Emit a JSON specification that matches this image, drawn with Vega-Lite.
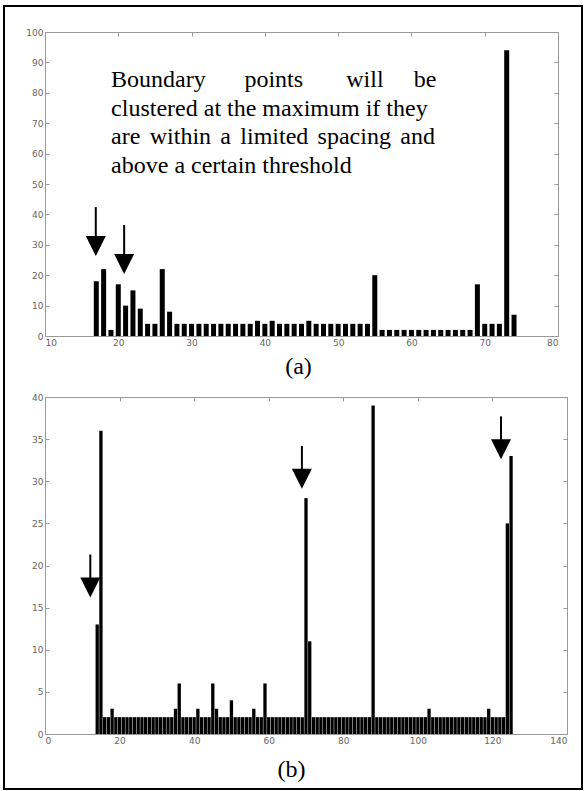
{
  "$schema": "https://vega.github.io/schema/vega-lite/v6.json",
  "background": "white",
  "padding": {"left": 3, "top": 4, "right": 3, "bottom": 2},
  "bounds": "flush",
  "spacing": 61,
  "config": {
    "view": {"stroke": null},
    "axis": {
      "grid": false,
      "domainColor": "#999",
      "domainWidth": 1,
      "tickColor": "#999",
      "tickSize": -4,
      "labelFont": "DejaVu Sans",
      "labelFontSize": 9,
      "labelColor": "#666",
      "labelPadding": 6,
      "titleFont": "Liberation Serif",
      "titleFontSize": 24,
      "titleFontWeight": "normal",
      "titleColor": "black"
    }
  },
  "datasets": {
    "barsA": [
      {"x": 17, "count": 18}, {"x": 18, "count": 22}, {"x": 19, "count": 2}, {"x": 20, "count": 17},
      {"x": 21, "count": 10}, {"x": 22, "count": 15}, {"x": 23, "count": 9}, {"x": 24, "count": 4},
      {"x": 25, "count": 4}, {"x": 26, "count": 22}, {"x": 27, "count": 8}, {"x": 28, "count": 4},
      {"x": 29, "count": 4}, {"x": 30, "count": 4}, {"x": 31, "count": 4}, {"x": 32, "count": 4},
      {"x": 33, "count": 4}, {"x": 34, "count": 4}, {"x": 35, "count": 4}, {"x": 36, "count": 4},
      {"x": 37, "count": 4}, {"x": 38, "count": 4}, {"x": 39, "count": 5}, {"x": 40, "count": 4},
      {"x": 41, "count": 5}, {"x": 42, "count": 4}, {"x": 43, "count": 4}, {"x": 44, "count": 4},
      {"x": 45, "count": 4}, {"x": 46, "count": 5}, {"x": 47, "count": 4}, {"x": 48, "count": 4},
      {"x": 49, "count": 4}, {"x": 50, "count": 4}, {"x": 51, "count": 4}, {"x": 52, "count": 4},
      {"x": 53, "count": 4}, {"x": 54, "count": 4}, {"x": 55, "count": 20}, {"x": 56, "count": 2},
      {"x": 57, "count": 2}, {"x": 58, "count": 2}, {"x": 59, "count": 2}, {"x": 60, "count": 2},
      {"x": 61, "count": 2}, {"x": 62, "count": 2}, {"x": 63, "count": 2}, {"x": 64, "count": 2},
      {"x": 65, "count": 2}, {"x": 66, "count": 2}, {"x": 67, "count": 2}, {"x": 68, "count": 2},
      {"x": 69, "count": 17}, {"x": 70, "count": 4}, {"x": 71, "count": 4}, {"x": 72, "count": 4},
      {"x": 73, "count": 94}, {"x": 74, "count": 7}
    ],
    "barsB": [
      {"x": 14, "count": 13}, {"x": 15, "count": 36}, {"x": 16, "count": 2}, {"x": 17, "count": 2},
      {"x": 18, "count": 3}, {"x": 19, "count": 2}, {"x": 20, "count": 2}, {"x": 21, "count": 2},
      {"x": 22, "count": 2}, {"x": 23, "count": 2}, {"x": 24, "count": 2}, {"x": 25, "count": 2},
      {"x": 26, "count": 2}, {"x": 27, "count": 2}, {"x": 28, "count": 2}, {"x": 29, "count": 2},
      {"x": 30, "count": 2}, {"x": 31, "count": 2}, {"x": 32, "count": 2}, {"x": 33, "count": 2},
      {"x": 34, "count": 2}, {"x": 35, "count": 3}, {"x": 36, "count": 6}, {"x": 37, "count": 2},
      {"x": 38, "count": 2}, {"x": 39, "count": 2}, {"x": 40, "count": 2}, {"x": 41, "count": 3},
      {"x": 42, "count": 2}, {"x": 43, "count": 2}, {"x": 44, "count": 2}, {"x": 45, "count": 6},
      {"x": 46, "count": 3}, {"x": 47, "count": 2}, {"x": 48, "count": 2}, {"x": 49, "count": 2},
      {"x": 50, "count": 4}, {"x": 51, "count": 2}, {"x": 52, "count": 2}, {"x": 53, "count": 2},
      {"x": 54, "count": 2}, {"x": 55, "count": 2}, {"x": 56, "count": 3}, {"x": 57, "count": 2},
      {"x": 58, "count": 2}, {"x": 59, "count": 6}, {"x": 60, "count": 2}, {"x": 61, "count": 2},
      {"x": 62, "count": 2}, {"x": 63, "count": 2}, {"x": 64, "count": 2}, {"x": 65, "count": 2},
      {"x": 66, "count": 2}, {"x": 67, "count": 2}, {"x": 68, "count": 2}, {"x": 69, "count": 2},
      {"x": 70, "count": 28}, {"x": 71, "count": 11}, {"x": 72, "count": 2}, {"x": 73, "count": 2},
      {"x": 74, "count": 2}, {"x": 75, "count": 2}, {"x": 76, "count": 2}, {"x": 77, "count": 2},
      {"x": 78, "count": 2}, {"x": 79, "count": 2}, {"x": 80, "count": 2}, {"x": 81, "count": 2},
      {"x": 82, "count": 2}, {"x": 83, "count": 2}, {"x": 84, "count": 2}, {"x": 85, "count": 2},
      {"x": 86, "count": 2}, {"x": 87, "count": 2}, {"x": 88, "count": 39}, {"x": 89, "count": 2},
      {"x": 90, "count": 2}, {"x": 91, "count": 2}, {"x": 92, "count": 2}, {"x": 93, "count": 2},
      {"x": 94, "count": 2}, {"x": 95, "count": 2}, {"x": 96, "count": 2}, {"x": 97, "count": 2},
      {"x": 98, "count": 2}, {"x": 99, "count": 2}, {"x": 100, "count": 2}, {"x": 101, "count": 2},
      {"x": 102, "count": 2}, {"x": 103, "count": 3}, {"x": 104, "count": 2}, {"x": 105, "count": 2},
      {"x": 106, "count": 2}, {"x": 107, "count": 2}, {"x": 108, "count": 2}, {"x": 109, "count": 2},
      {"x": 110, "count": 2}, {"x": 111, "count": 2}, {"x": 112, "count": 2}, {"x": 113, "count": 2},
      {"x": 114, "count": 2}, {"x": 115, "count": 2}, {"x": 116, "count": 2}, {"x": 117, "count": 2},
      {"x": 118, "count": 2}, {"x": 119, "count": 3}, {"x": 120, "count": 2}, {"x": 121, "count": 2},
      {"x": 122, "count": 2}, {"x": 123, "count": 2}, {"x": 124, "count": 25}, {"x": 125, "count": 33}
    ],
    "arrowsA": [
      {"x": 16.93, "top": 42.4, "mid": 29.6},
      {"x": 20.8, "top": 36.5, "mid": 23.7}
    ],
    "arrowsB": [
      {"x": 12.15, "top": 21.3, "mid": 17.4},
      {"x": 68.9, "top": 34.2, "mid": 30.3},
      {"x": 122.3, "top": 37.7, "mid": 33.8}
    ],
    "note": [
      {"t": "Boundary", "x": 19.02, "y": 81.9},
      {"t": "points", "x": 37.21, "y": 81.9},
      {"t": "will", "x": 51.11, "y": 81.9},
      {"t": "be", "x": 60.3, "y": 81.9},
      {"t": "clustered at the maximum if they", "x": 19.02, "y": 72.4},
      {"t": "are", "x": 19.02, "y": 63.1},
      {"t": "within", "x": 24.29, "y": 63.1},
      {"t": "a", "x": 33.93, "y": 63.1},
      {"t": "limited", "x": 36.65, "y": 63.1},
      {"t": "spacing", "x": 47.2, "y": 63.1},
      {"t": "and", "x": 58.48, "y": 63.1},
      {"t": "above a certain threshold", "x": 19.02, "y": 53.7}
    ]
  },
  "vconcat": [
    {
      "width": 513,
      "height": 304,
      "resolve": {"axis": {"x": "independent", "y": "independent"}},
      "layer": [
        {
          "data": {"name": "barsA"},
          "mark": {"type": "bar", "size": 5, "color": "black"},
          "encoding": {
            "x": {"field": "x", "type": "quantitative",
                  "scale": {"domain": [10, 80], "nice": false, "zero": false, "padding": 0},
                  "axis": {"orient": "bottom", "values": [10, 20, 30, 40, 50, 60, 70, 80],
                           "title": "(a)", "titleX": 253, "titleY": 37, "titleAlign": "center", "titleBaseline": "alphabetic"}},
            "y": {"field": "count", "type": "quantitative",
                  "scale": {"domain": [0, 100], "nice": false},
                  "axis": {"orient": "left", "values": [0, 10, 20, 30, 40, 50, 60, 70, 80, 90, 100], "title": null}}
          }
        },
        {
          "data": {"name": "arrowsA"},
          "mark": {"type": "rule", "strokeWidth": 2, "color": "black"},
          "encoding": {
            "x": {"field": "x", "type": "quantitative",
                  "axis": {"orient": "top", "labels": false, "title": null, "values": [10, 20, 30, 40, 50, 60, 70, 80]}},
            "y": {"field": "top", "type": "quantitative",
                  "axis": {"orient": "right", "labels": false, "title": null, "values": [0, 10, 20, 30, 40, 50, 60, 70, 80, 90, 100]}},
            "y2": {"field": "mid"}
          }
        },
        {
          "data": {"name": "arrowsA"},
          "mark": {"type": "point", "shape": "M-1,-1L1,-1L0,1Z", "size": 400, "filled": true, "opacity": 1, "color": "black"},
          "encoding": {
            "x": {"field": "x", "type": "quantitative", "axis": null},
            "y": {"field": "mid", "type": "quantitative", "axis": null}
          }
        },
        {
          "data": {"name": "note"},
          "mark": {"type": "text", "font": "Liberation Serif", "fontSize": 24, "align": "left", "baseline": "alphabetic", "color": "black"},
          "encoding": {
            "x": {"field": "x", "type": "quantitative", "axis": null},
            "y": {"field": "y", "type": "quantitative", "axis": null},
            "text": {"field": "t"}
          }
        }
      ]
    },
    {
      "width": 522,
      "height": 337,
      "resolve": {"axis": {"x": "independent", "y": "independent"}},
      "layer": [
        {
          "data": {"name": "barsB"},
          "mark": {"type": "bar", "size": 3.3, "color": "black"},
          "encoding": {
            "x": {"field": "x", "type": "quantitative",
                  "scale": {"domain": [0, 140], "nice": false, "zero": false, "padding": 0},
                  "axis": {"orient": "bottom", "values": [0, 20, 40, 60, 80, 100, 120, 140],
                           "title": "(b)", "titleX": 246, "titleY": 42, "titleAlign": "center", "titleBaseline": "alphabetic"}},
            "y": {"field": "count", "type": "quantitative",
                  "scale": {"domain": [0, 40], "nice": false},
                  "axis": {"orient": "left", "values": [0, 5, 10, 15, 20, 25, 30, 35, 40], "title": null}}
          }
        },
        {
          "data": {"name": "arrowsB"},
          "mark": {"type": "rule", "strokeWidth": 2, "color": "black"},
          "encoding": {
            "x": {"field": "x", "type": "quantitative",
                  "axis": {"orient": "top", "labels": false, "title": null, "values": [0, 20, 40, 60, 80, 100, 120, 140]}},
            "y": {"field": "top", "type": "quantitative",
                  "axis": {"orient": "right", "labels": false, "title": null, "values": [0, 5, 10, 15, 20, 25, 30, 35, 40]}},
            "y2": {"field": "mid"}
          }
        },
        {
          "data": {"name": "arrowsB"},
          "mark": {"type": "point", "shape": "M-1,-1L1,-1L0,1Z", "size": 400, "filled": true, "opacity": 1, "color": "black"},
          "encoding": {
            "x": {"field": "x", "type": "quantitative", "axis": null},
            "y": {"field": "mid", "type": "quantitative", "axis": null}
          }
        },
        {
          "data": {"values": [{}]},
          "mark": {"type": "rect", "filled": false, "color": "black", "strokeWidth": 2},
          "encoding": {
            "x": {"datum": -10.996, "type": "quantitative", "axis": null},
            "x2": {"datum": 144.02},
            "y": {"datum": 86.41, "type": "quantitative", "axis": null},
            "y2": {"datum": -6.528}
          }
        }
      ]
    }
  ]
}
